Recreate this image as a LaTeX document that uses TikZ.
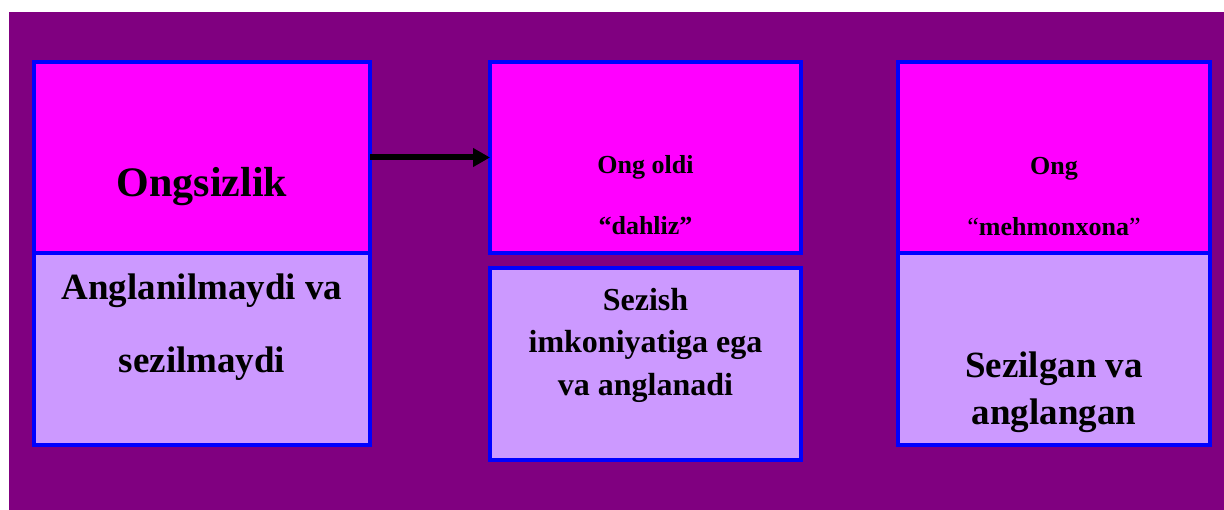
\documentclass[tikz,border=0pt]{standalone}
\usepackage{fontspec}
\usepackage{tikz}
\usepackage{xcolor}
\usetikzlibrary{arrows.meta}
\usetikzlibrary{positioning}
\setmainfont{Liberation Serif}

\tikzset{
	topbox/.style={rectangle, draw=BLUE, line width=4pt, fill=MAGENTA, inner sep=0pt, outer sep=0pt, minimum height=191pt},
	lowbox/.style={rectangle, draw=BLUE, line width=4pt, fill=LAVENDER, inner sep=0pt, outer sep=0pt, minimum height=192pt},
	txt/.style={anchor=base, inner sep=0pt, font=\bfseries}
}

\begin{document}
\begin{tikzpicture}[x=1pt, y=-1pt]
				\definecolor{WHITE}{RGB}{255, 255, 255}
				\definecolor{PURPLE}{RGB}{128, 0, 128}
				\definecolor{MAGENTA}{RGB}{255, 0, 255}
				\definecolor{LAVENDER}{RGB}{204, 153, 255}
				\definecolor{BLUE}{RGB}{0, 0, 255}
				\definecolor{BLACK}{RGB}{0, 0, 0}
				\useasboundingbox[fill=WHITE] (0, 0) rectangle (1224, 510);
				\fill[PURPLE] (9, 12) rectangle (1224, 510);

				% left column
				\node[topbox, minimum width=336pt] (ongsiz) at (202, 157.5) {};
				\node[lowbox, minimum width=336pt, below=0pt of ongsiz] (ongsizlow) {};
				\node[txt, font=\bfseries\fontsize{42}{48}\selectfont] (ongsizA) at (202, 197) {Ongsizlik};
				\node[txt, font=\bfseries\fontsize{37}{42}\selectfont] (ongsizB) at (202, 300) {Anglanilmaydi va};
				\node[txt, font=\bfseries\fontsize{37}{42}\selectfont] (ongsizC) at (202, 373) {sezilmaydi};

				% middle column
				\node[topbox, minimum width=311pt] (oldi) at (645.5, 157.5) {};
				\node[lowbox, minimum width=311pt, below=15pt of oldi] (oldilow) {};
				\node[txt, font=\bfseries\fontsize{26}{30}\selectfont] (oldiA) at (645.5, 174) {Ong oldi};
				\node[txt, font=\bfseries\fontsize{26}{30}\selectfont] (oldiB) at (645.5, 235) {“dahliz”};
				\node[txt, font=\bfseries\fontsize{32}{36}\selectfont] (oldiC) at (645.5, 311) {Sezish};
				\node[txt, font=\bfseries\fontsize{32}{36}\selectfont] (oldiD) at (645.5, 353) {imkoniyatiga ega};
				\node[txt, font=\bfseries\fontsize{32}{36}\selectfont] (oldiE) at (645.5, 396) {va anglanadi};

				% right column
				\node[topbox, minimum width=312pt] (ong) at (1054, 157.5) {};
				\node[lowbox, minimum width=312pt, below=0pt of ong] (onglow) {};
				\node[txt, font=\bfseries\fontsize{26}{30}\selectfont] (ongA) at (1054, 175) {Ong};
				\node[txt, font=\bfseries\fontsize{26}{30}\selectfont] (ongB) at (1054, 236) {{\mdseries“}mehmonxona{\mdseries”}};
				\node[txt, font=\bfseries\fontsize{37}{42}\selectfont] (ongC) at (1054, 378) {Sezilgan va};
				\node[txt, font=\bfseries\fontsize{37}{42}\selectfont] (ongD) at (1054, 425) {anglangan};

				\draw[-{Triangle[length=17pt, width=18pt]}, line width=6pt, color=BLACK] (ongsiz.east) -- (oldi.west);
\end{tikzpicture}
\end{document}
